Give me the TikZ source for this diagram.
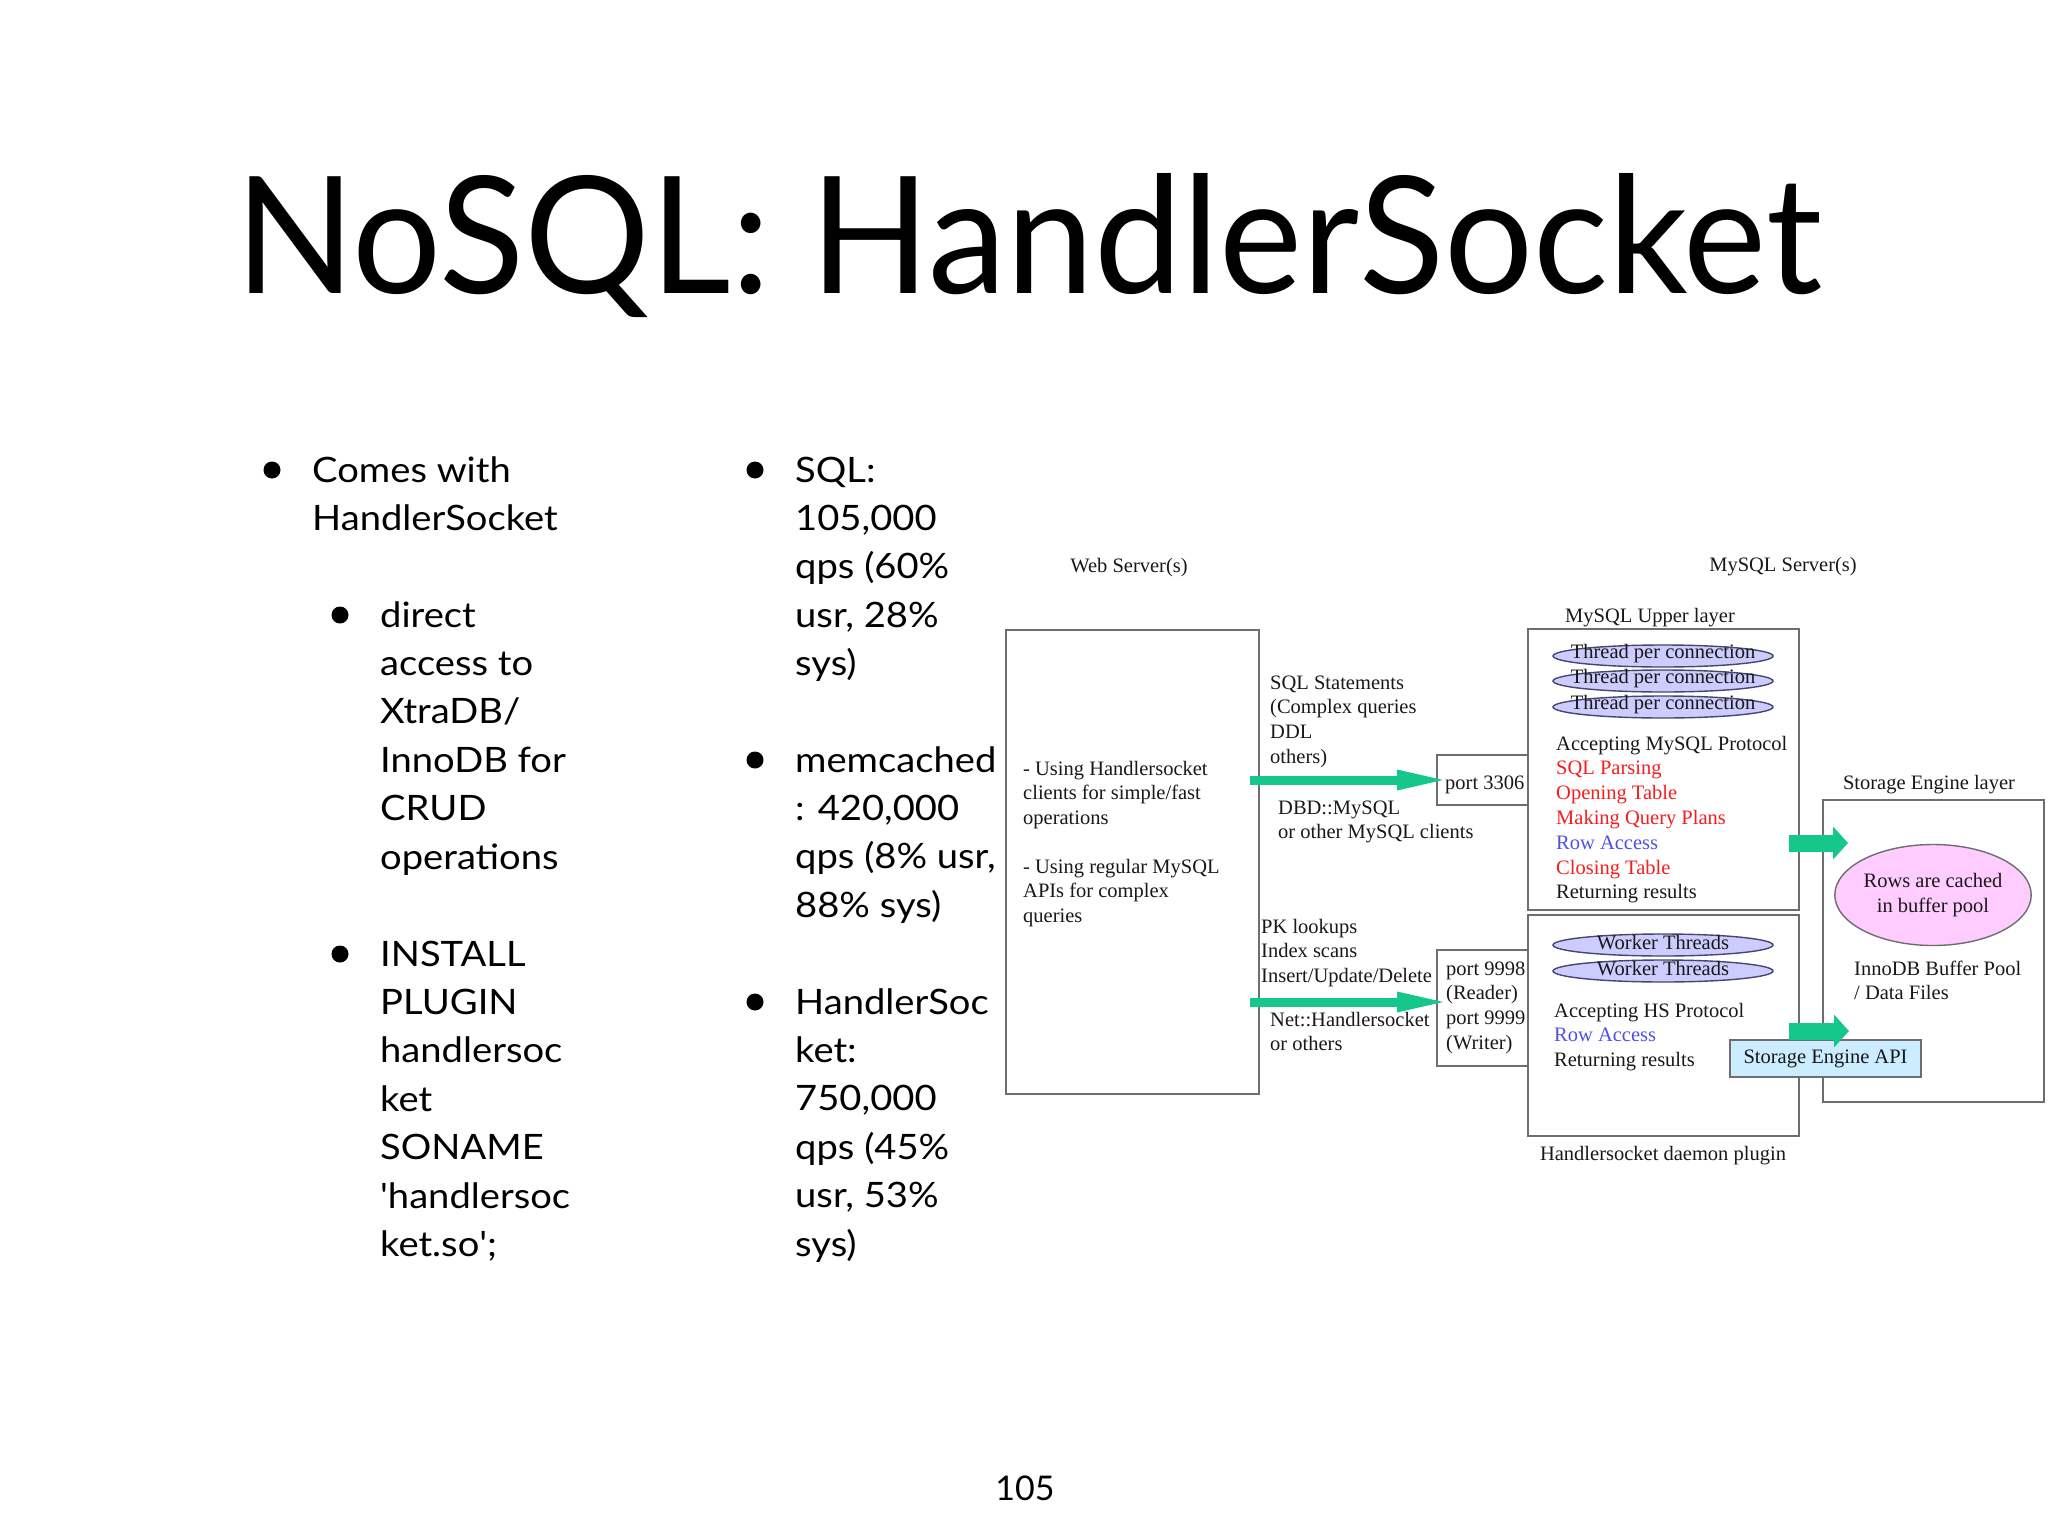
\documentclass[tikz,border=0pt]{standalone}
\usepackage{graphicx}
\usepackage{fontspec}
\setmainfont{Liberation Serif}
\newfontfamily\gill{Lato}
\usetikzlibrary{arrows.meta,shapes.geometric}
\definecolor{hsgreen}{RGB}{22,199,140}
\definecolor{lav}{RGB}{204,204,255}
\definecolor{lavline}{RGB}{70,70,110}
\definecolor{pinkf}{RGB}{255,204,255}
\definecolor{apiblue}{RGB}{204,236,255}
\definecolor{boxgray}{RGB}{110,110,110}
\definecolor{hred}{RGB}{245,30,30}
\definecolor{hblue}{RGB}{80,80,230}
\definecolor{dtext}{RGB}{25,25,25}
\newcommand{\ml}[1]{\begin{tabular}[t]{@{}l@{}}#1\end{tabular}}
\newcommand{\bml}[1]{\scalebox{1.09}[1]{\ml{#1}}}
\tikzset{
  title/.style={anchor=base west, inner sep=0, font=\gill\fontsize{163}{163}\selectfont},
  body/.style={anchor=base west, inner sep=0, font=\gill\fontsize{35}{48.4}\selectfont},
  pagenum/.style={anchor=base, inner sep=0, font=\gill\fontsize{34}{34}\selectfont},
  bul/.style={circle, fill=black, minimum size=17pt, inner sep=0},
  dtxt/.style={anchor=base west, inner sep=0, text=dtext, font=\fontsize{20.5}{24.8}\selectfont},
  dlab/.style={anchor=base, inner sep=0, text=dtext, font=\fontsize{20.5}{24.8}\selectfont},
  box/.style={draw=boxgray, line width=1.6pt, inner sep=0, outer sep=0, anchor=north west},
  thr/.style={ellipse, draw=lavline, fill=lav, line width=1.4pt, minimum width=220pt, minimum height=22pt, inner sep=0},
  garrow/.style={draw=hsgreen, line width=9pt, -{Triangle[length=46pt,width=21pt,line width=0pt]}},
  bigarrow/.style={draw=hsgreen, line width=17pt, -{Triangle[length=15pt,width=33pt,line width=0pt]}},
}
\begin{document}
\begin{tikzpicture}[x=1pt,y=-1pt]
\useasboundingbox (0,0) rectangle (2048,1536);
\fill[white] (0,0) rectangle (2048,1536);
% title
\node[title] (ttl) at (235,293) {\scalebox{0.964}[1]{NoSQL: HandlerSocket}};
% left column
\node[bul] (b1) at (272,470) {};
\node[body] (t1) at (312,482) {\bml{Comes with\\HandlerSocket}};
\node[bul] (b2) at (340,615) {};
\node[body] (t2) at (380,627) {\bml{direct\\access to\\XtraDB/\\InnoDB for\\CRUD\\operations}};
\node[bul] (b3) at (340,954) {};
\node[body] (t3) at (380,966) {\bml{INSTALL\\PLUGIN\\handlersoc\\ket\\SONAME\\\textquotesingle handlersoc\\ket.so\textquotesingle;}};
% middle column
\node[bul] (b4) at (755,470) {};
\node[body] (t4) at (795,482) {\bml{SQL:\\105,000\\qps (60\%\\usr, 28\%\\sys)}};
\node[bul] (b5) at (755,760) {};
\node[body] (t5) at (795,772) {\bml{memcached\\: 420,000\\qps (8\% usr,\\88\% sys)}};
\node[bul] (b6) at (755,1002) {};
\node[body] (t6) at (795,1014) {\bml{HandlerSoc\\ket:\\750,000\\qps (45\%\\usr, 53\%\\sys)}};
% page number
\node[pagenum] (pg) at (1025,1500) {105};
% ---- diagram ----
\node[dlab] (wslab) at (1129,572) {Web Server(s)};
\node[dlab] (mslab) at (1783,571) {MySQL Server(s)};
\node[box, minimum width=253pt, minimum height=464pt] (web) at (1006,630) {};
\node[dtxt] (w1) at (1023,775) {\ml{- Using Handlersocket\\clients for simple/fast\\operations}};
\node[dtxt] (w2) at (1023,873) {\ml{- Using regular MySQL\\APIs for complex\\queries}};
\node[dtxt] (sqlt) at (1270,689) {\ml{SQL Statements\\(Complex queries\\DDL\\others)}};
\node[dtxt] (dbd) at (1278,814) {\ml{DBD::MySQL\\or other MySQL clients}};
\node[dtxt] (pkl) at (1261,933) {\ml{PK lookups\\Index scans\\Insert/Update/Delete}};
\node[dtxt] (neth) at (1270,1026) {\ml{Net::Handlersocket\\or others}};
% port boxes
\node[box, minimum width=91pt, minimum height=50pt] (p3306) at (1437,755) {};
\node[dtxt] (p3306t) at (1445,789) {port 3306};
\node[box, minimum width=91pt, minimum height=116pt] (p9998) at (1437,950) {};
\node[dtxt] (p9998t) at (1446,975) {\ml{port 9998\\(Reader)\\port 9999\\(Writer)}};
% upper layer
\node[dlab] (uplab) at (1650,622) {MySQL Upper layer};
\node[box, minimum width=271pt, minimum height=281pt] (upper) at (1528,629) {};
\node[thr] (th1) at (1663,656) {};
\node[thr] (th2) at (1663,681) {};
\node[thr] (th3) at (1663,707) {};
\foreach \n in {th1,th2,th3}
  \node[dlab, anchor=center] at ([yshift=2pt]\n.center) {Thread per connection};
\node[dtxt] (upt) at (1556,750) {\ml{Accepting MySQL Protocol\\\textcolor{hred}{SQL Parsing}\\\textcolor{hred}{Opening Table}\\\textcolor{hred}{Making Query Plans}\\\textcolor{hblue}{Row Access}\\\textcolor{hred}{Closing Table}\\Returning results}};
% lower (handlersocket) layer
\node[box, minimum width=271pt, minimum height=221pt] (lower) at (1528,915) {};
\node[thr] (wk1) at (1663,945) {};
\node[thr] (wk2) at (1663,971) {};
\foreach \n in {wk1,wk2}
  \node[dlab, anchor=center] at ([yshift=2pt]\n.center) {Worker Threads};
\node[dtxt] (lowt) at (1554,1017) {\ml{Accepting HS Protocol\\\textcolor{hblue}{Row Access}\\Returning results}};
\node[dlab] (hslab) at (1663,1160) {Handlersocket daemon plugin};
% storage engine layer
\node[dlab] (selab) at (1929,789) {Storage Engine layer};
\node[box, minimum width=221pt, minimum height=302pt] (store) at (1823,800) {};
\node[ellipse, draw=boxgray, fill=pinkf, line width=1.4pt, minimum width=170pt, minimum height=101pt, inner sep=0, align=center, text=dtext, font=\fontsize{20.5}{24.5}\selectfont] (cache) at (1933,895) {Rows are cached\\in buffer pool};
\node[dtxt] (inno) at (1854,975) {\ml{InnoDB Buffer Pool\\/ Data Files}};
\node[draw=boxgray, fill=apiblue, line width=1.4pt, minimum width=191pt, minimum height=37pt, inner sep=0, text=dtext, font=\fontsize{20.5}{24.5}\selectfont] (api) at (1825.5,1058.5) {Storage Engine API};
% arrows
\draw[garrow] ([xshift=-9pt]web.east |- p3306.west) -- ([xshift=6pt]p3306.west);
\draw[garrow] ([xshift=-9pt]web.east |- 0,1002) -- ([xshift=6pt]p9998.west |- 0,1002);
\draw[bigarrow] ([xshift=-10pt]upper.east |- 0,843) -- ([xshift=25pt]store.west |- 0,843);
\draw[bigarrow] ([xshift=-10pt]lower.east |- 0,1031) -- ([xshift=26pt]store.west |- 0,1031);
\end{tikzpicture}
\end{document}
